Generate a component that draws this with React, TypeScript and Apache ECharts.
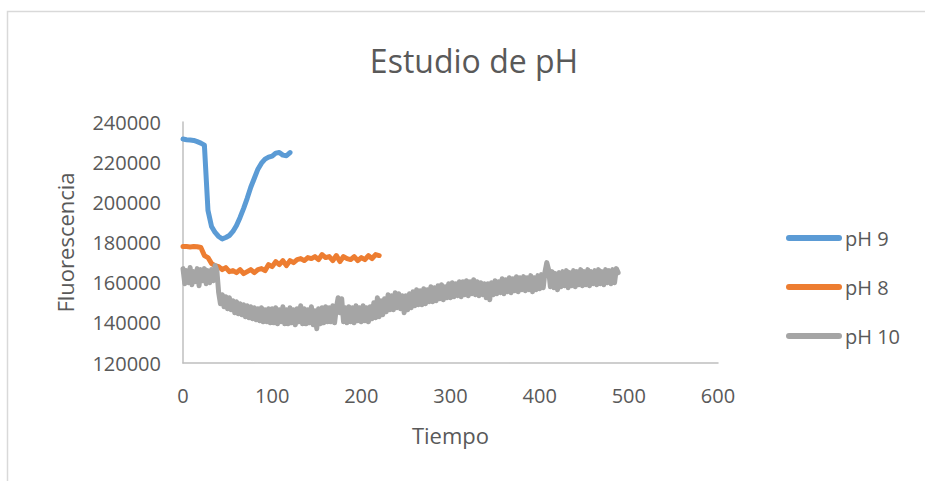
import React, { useEffect, useRef } from "react";
import * as echarts from "echarts";

// Sampling step of the time axis (Tiempo) for each series
const TIME_STEPS = [4, 4, 2];

const seriesNames = ["pH 9", "pH 8", "pH 10"];

const ph9Values = [
  231500, 231200, 231000, 230800, 230200, 229500, 228500, 196000, 188000,
  185000, 183000, 181800, 182500, 183500, 185500, 188500, 192500, 197000,
  202000, 207500, 212000, 216500, 219500, 221500, 222500, 223000, 224500,
  224800, 223500, 223200, 224800,
];

const ph8Values = [
  178000, 178000, 177800, 178000, 177900, 177500, 173500, 172500, 169500,
  168500, 168000, 166500, 167500, 165500, 166000, 165000, 166500, 164500,
  165500, 166500, 165000, 166500, 167000, 166000, 169000, 168000, 170500,
  169000, 171000, 168500, 171000, 170000, 171500, 172000, 171000, 172500,
  172000, 173000, 171500, 174000, 172500, 173000, 171000, 173500, 170500,
  173000, 172000, 171500, 173000, 171000, 172500, 171500, 173500, 172000,
  174000, 173500,
];

const ph10Values = [
  // t = 0 .. 38
  167000, 159500, 166000, 160000, 167500, 159000, 165500, 160500, 167000,
  158500, 166500, 161000, 167000, 159500, 166000, 160000, 166500, 161000,
  168500, 166000,
  // t = 40 .. 98
  155000, 149500, 154000, 148000, 153000, 147000, 152500, 146500, 151000,
  145000, 150500, 144500, 149500, 144000, 149000, 143000, 148500, 142500,
  148000, 142000, 147500, 141500, 147000, 141000, 147500, 140500, 146500,
  140500, 147000, 140000,
  // t = 100 .. 198
  147000, 140000, 147500, 139500, 146500, 140500, 148000, 139500, 146500,
  139500, 147500, 140000, 146500, 139000, 147000, 140500, 148500, 139500,
  147000, 139500, 146500, 140000, 148000, 139000, 146000, 137000, 147000,
  139500, 147500, 140000, 148000, 140500, 147500, 140500, 148500, 140000,
  147500, 152500, 145000, 152000, 140500, 147500, 140000, 148000, 140500,
  147500, 140000, 148500, 141000, 147500,
  // t = 200 .. 298
  140500, 148500, 141000, 147500, 140500, 148000, 142000, 150000, 142500,
  152500, 143000, 151000, 144000, 152000, 145500, 154000, 146500, 153500,
  146500, 155000, 147500, 154500, 147000, 153500, 145000, 153500, 146500,
  154500, 147500, 155500, 148500, 156500, 149000, 156000, 149000, 157000,
  149500, 156500, 150500, 158000, 150500, 157500, 151000, 158500, 152000,
  159000, 151500, 158000, 152500, 159500,
  // t = 300 .. 398
  152500, 160000, 153000, 159500, 153500, 160500, 153000, 160500, 154000,
  161000, 153500, 160500, 154500, 161500, 154000, 160500, 153500, 160000,
  154000, 159500, 152500, 159500, 151500, 160000, 154000, 161000, 154500,
  160500, 155000, 162000, 154500, 161500, 155500, 162500, 155000, 162000,
  156000, 163000, 155500, 162500, 156500, 163000, 156000, 162500, 156500,
  163500, 155500, 162500, 156500, 163500,
  // t = 400 .. 488
  157000, 164000, 157500, 165500, 170000, 166500, 158000, 165500, 157500,
  164500, 156500, 165000, 158000, 165500, 158500, 166000, 157500, 165000,
  158500, 166000, 158000, 165500, 159000, 166500, 158500, 165500, 159000,
  166500, 158500, 165500, 159500, 166000, 159000, 166500, 159500, 165500,
  159000, 166500, 160000, 166000, 159500, 166500, 160000, 167000, 165000,
];

const colors = ["#5B9BD5", "#ED7D31", "#A5A5A5"];

const xTicks = { min: 0, max: 600, interval: 100 };
const yTicks = { min: 120000, max: 240000, interval: 20000 };

const toPairs = (vals: number[], step: number) => vals.map((v, i) => [i * step, v]);

const FONT = "'Open Sans', 'Liberation Sans', sans-serif";
const TEXT = "#595959";

export default function App() {
  const ref = useRef<HTMLDivElement>(null);
  useEffect(() => {
    if (!ref.current) return;
    const chart = echarts.init(ref.current, undefined, { renderer: "svg" });
    const allValues = [ph9Values, ph8Values, ph10Values];
    chart.setOption({
      animation: false,
      backgroundColor: "#ffffff",
      color: colors,
      textStyle: { fontFamily: FONT, color: TEXT },
      title: {
        text: "Estudio de pH",
        left: 469,
        textAlign: "center",
        top: 39,
        textStyle: { fontFamily: FONT, fontSize: 32, fontWeight: "normal", color: TEXT },
      },
      graphic: [
        {
          type: "rect",
          shape: { x: 7.5, y: 11.5, width: 1000, height: 1000 },
          style: { fill: "none", stroke: "#d9d9d9", lineWidth: 1.5 },
          silent: true,
        },
      ],
      legend: {
        orient: "vertical",
        left: 781,
        top: 223,
        itemWidth: 56,
        itemHeight: 6,
        itemGap: 29,
        icon: "path://M3,0 L53,0 A3,3 0 0 1 53,6 L3,6 A3,3 0 0 1 3,0 Z",
        textStyle: { fontFamily: FONT, fontSize: 20, color: TEXT, padding: [0, 0, 0, -2] },
        data: seriesNames,
      },
      grid: { left: 183, right: 207, top: 122, bottom: 118, containLabel: false },
      xAxis: {
        type: "value",
        min: xTicks.min,
        max: xTicks.max,
        interval: xTicks.interval,
        name: "Tiempo",
        nameLocation: "middle",
        nameGap: 61,
        nameTextStyle: { fontFamily: FONT, fontSize: 22, color: TEXT },
        axisLine: { show: true, onZero: false, lineStyle: { color: "#bfbfbf", width: 1.5 } },
        axisTick: { show: false },
        splitLine: { show: false },
        axisLabel: { margin: 22, fontFamily: FONT, fontSize: 20, color: TEXT },
      },
      yAxis: {
        type: "value",
        min: yTicks.min,
        max: yTicks.max,
        interval: yTicks.interval,
        name: "Fluorescencia",
        nameLocation: "middle",
        nameGap: 107,
        nameTextStyle: { fontFamily: FONT, fontSize: 22, color: TEXT },
        axisLine: { show: true, lineStyle: { color: "#bfbfbf", width: 1.5 } },
        axisTick: { show: false },
        splitLine: { show: false },
        axisLabel: {
          margin: 22,
          fontFamily: FONT,
          fontSize: 20,
          color: TEXT,
          formatter: (v: number) => String(v),
        },
      },
      series: seriesNames.map((name, i) => ({
        name,
        type: "line",
        data: toPairs(allValues[i], TIME_STEPS[i]),
        showSymbol: false,
        symbol: "none",
        lineStyle: { width: 5, color: colors[i], cap: "round", join: "round" },
        itemStyle: { color: colors[i] },
      })),
    });
    return () => chart.dispose();
  }, []);
  return (
    <div
      ref={ref}
      style={{ position: "absolute", left: 0, top: 0, width: 925, height: 481 }}
    />
  );
}
